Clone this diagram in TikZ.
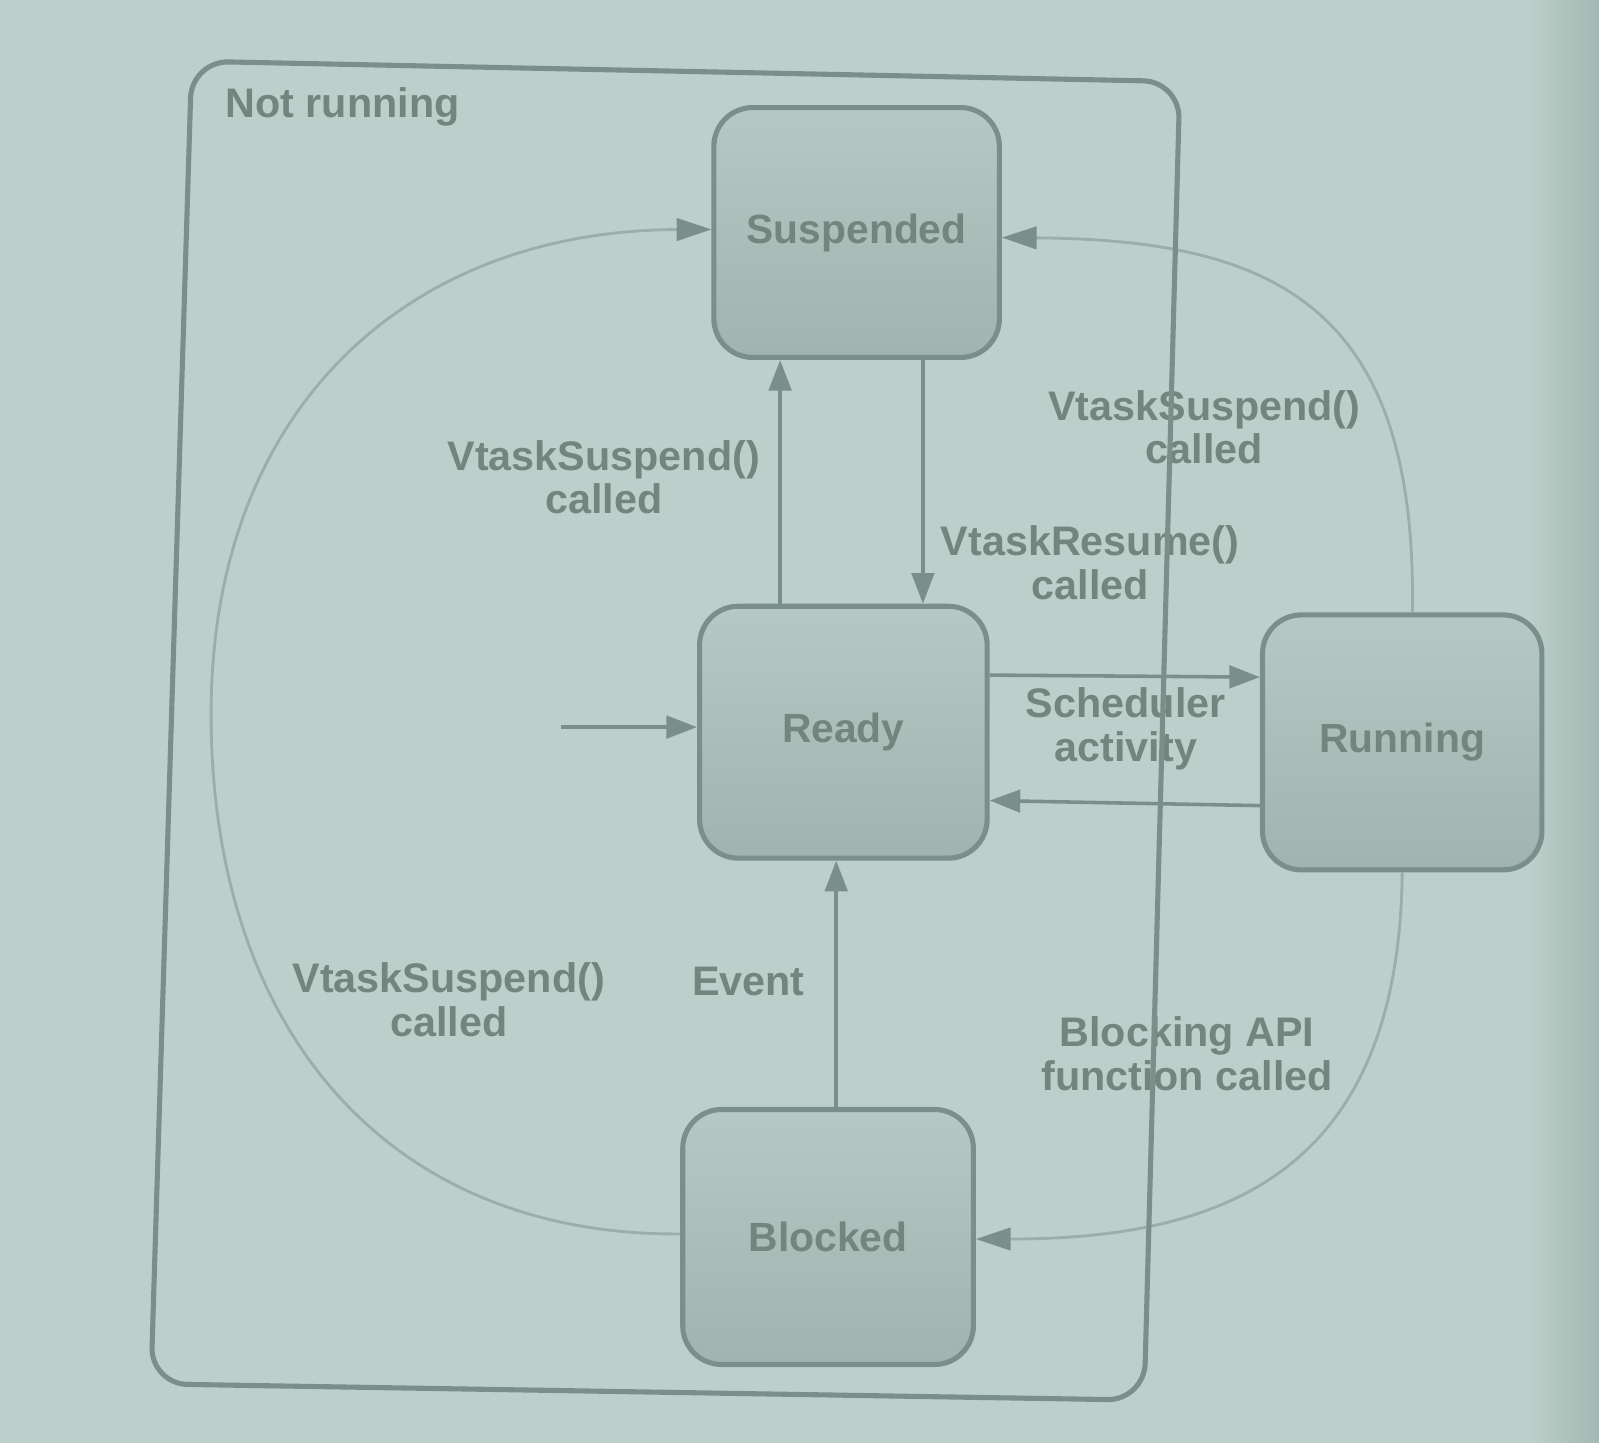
\documentclass[tikz,border=0pt]{standalone}
\usepackage{fontspec}
\setmainfont{Liberation Sans}
\usetikzlibrary{arrows.meta,calc}
\definecolor{bg}{HTML}{BCCFCA}
\definecolor{bgdark}{HTML}{A3B8B2}
\definecolor{edge}{HTML}{7B8F8A}
\definecolor{curve}{HTML}{9BAFAA}
\definecolor{boxtop}{HTML}{B6C8C3}
\definecolor{boxbot}{HTML}{A1B3AE}
\definecolor{txt}{HTML}{72857F}
\begin{document}
\begin{tikzpicture}[x=1pt,y=-1pt,
  state/.style={draw=edge, line width=5pt, rounded corners=38pt,
    top color=boxtop, bottom color=boxbot, inner sep=0pt,
    font=\fontsize{40}{44}\selectfont\bfseries, text=txt},
  lab/.style={font=\fontsize{40.5}{43}\selectfont\bfseries, text=txt, align=center, inner sep=0pt},
  arr/.style={draw=edge, line width=3.5pt, -{Triangle[length=30pt,width=22pt]}},
  carr/.style={draw=curve, line width=2.8pt, -{Triangle[length=34pt,width=22pt,fill=edge,color=edge]}}
]
\useasboundingbox (0,0) rectangle (1568,1415);
\fill[bg] (0,0) rectangle (1568,1415);
\shade[left color=bg, right color=bgdark] (1500,0) rectangle (1568,1415);

% states
\node[state, minimum width=280pt, minimum height=245pt] (Suspended) at (840,228) {Suspended};
\node[state, minimum width=282pt, minimum height=247pt] (Ready) at (827,718) {Ready};
\node[state, minimum width=274pt, minimum height=250pt] (Running) at (1375,728) {Running};
\node[state, minimum width=285pt, minimum height=250pt] (Blocked) at (812,1213) {Blocked};
\coordinate (init) at (550,713);

% straight connectors
\draw[arr] ([xshift=-62pt]Ready.north) -- ([xshift=-75pt]Suspended.south);
\draw[arr] ([xshift=65pt]Suspended.south) -- ([xshift=78pt]Ready.north);
\draw[arr] ([yshift=56pt]Ready.east) -- ([yshift=64pt]Running.west);
\draw[arr] ([yshift=-62pt]Running.west) -- ([yshift=-67pt]Ready.east);
\draw[arr] ([xshift=8pt]Blocked.north) -- ([xshift=-7pt]Ready.south);
\draw[arr] (init) -- ([yshift=5pt]Ready.west);

% curved connectors
\draw[carr] ([yshift=3pt]Blocked.west) .. controls (380,1212) and (207,1010) .. (207,700)
  .. controls (207,400) and (400,226) .. ([yshift=3pt]Suspended.west);
\draw[carr] ([xshift=10pt]Running.north) .. controls (1390,300) and (1250,235) .. ([yshift=-5pt]Suspended.east);
\draw[carr] (Running.south) .. controls (1372,1150) and (1200,1215) .. ([yshift=-2pt]Blocked.east);

% labels
\node[lab] (l1) at (592,468) {VtaskSuspend()\\called};
\node[lab] (l2) at (1069,552) {VtaskResume()\\called};
\node[lab] (l3) at (1104,715) {Scheduler\\activity};
\node[lab] (l4) at (1181,419) {VtaskSuspend()\\called};
\node[lab] (l5) at (440,980) {VtaskSuspend()\\called};
\node[lab] (l6) at (734,962) {Event};
\node[lab] (l7) at (1164,1033) {Blocking API\\function called};

% outer container
\draw[edge, line width=5pt, rounded corners=36pt]
  (188,60) -- (1157,80) -- (1122,1373) -- (148,1357) -- cycle;
\node[lab, anchor=west] (nr) at (221,105) {Not running};
\end{tikzpicture}
\end{document}
